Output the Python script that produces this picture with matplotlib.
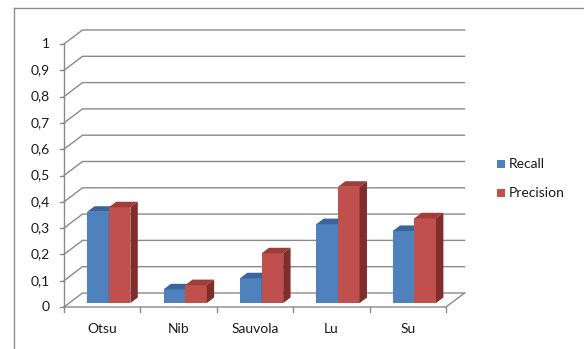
import matplotlib
matplotlib.use("Agg")
import matplotlib.pyplot as plt
from matplotlib.patches import Polygon, Rectangle
from matplotlib.lines import Line2D

categories = ["Otsu", "Nib", "Sauvola", "Lu", "Su"]
recall = [0.347, 0.052, 0.094, 0.300, 0.274]
precision = [0.364, 0.068, 0.189, 0.442, 0.322]
series_names = ["Recall", "Precision"]
y_ticks = [0, 0.1, 0.2, 0.3, 0.4, 0.5, 0.6, 0.7, 0.8, 0.9, 1.0]
y_tick_labels = ["0", "0,1", "0,2", "0,3", "0,4", "0,5", "0,6", "0,7", "0,8", "0,9", "1"]

plt.rcParams['font.family'] = ['Lato', 'DejaVu Sans']
FS = 10

W, H = 584, 349
fig = plt.figure(figsize=(W / 100, H / 100), dpi=100)
fig.patch.set_facecolor("white")

# outer chart border (top & left visible)
fig.add_artist(Line2D([14 / W, 14 / W], [0, 1 - 8 / H], color="#8c8c8c", lw=1.0, transform=fig.transFigure))
fig.add_artist(Line2D([14 / W, 1], [1 - 8 / H, 1 - 8 / H], color="#8c8c8c", lw=1.0, transform=fig.transFigure))

ax = fig.add_axes([64 / W, (H - 307) / H, (446 - 64) / W, (307 - 44) / H])
n = len(categories)
ax.set_xlim(0, n)
ax.set_ylim(0, 1)
ax.axis("off")

px_x = (446 - 64) / n  # pixels per category unit
px_y = 263.0           # pixels per value unit
DX = 18.5 / px_x
DY = 14.0 / px_y
grid_c = "#8a8a8a"
lw = 1.0

# back wall and side wall gridlines
for v in y_ticks:
    ax.plot([0, DX, n + DX], [v, v + DY, v + DY], color=grid_c, lw=lw, clip_on=False, zorder=1,
            solid_joinstyle="miter")
# floor front edge and right edge
ax.plot([0, n, n + DX], [0, 0, DY], color=grid_c, lw=lw, clip_on=False, zorder=1)
# value axis
ax.plot([0, 0], [0, 1], color=grid_c, lw=lw, clip_on=False, zorder=1)
tick_len_x = 4.5 / px_x
tick_len_y = 4.5 / px_y
for v, lab in zip(y_ticks, y_tick_labels):
    ax.plot([-tick_len_x, 0], [v, v], color=grid_c, lw=lw, clip_on=False, zorder=1)
    ax.text(-14 / px_x, v, lab, ha="right", va="center", fontsize=FS, color="#1a1a1a")
# category ticks
for i in range(n + 1):
    ax.plot([i, i], [0, -tick_len_y], color=grid_c, lw=lw, clip_on=False, zorder=1)
for i, c in enumerate(categories):
    ax.text(i + 0.5, -22 / px_y, c, ha="center", va="center", fontsize=FS, color="#1a1a1a")

# bars
f0 = 0.28     # depth position of bar front
d = 0.40      # bar depth fraction
bw = 0.283
x_start = 0.235
colors = {
    0: ("#4F81BD", "#3B659A", "#34598A"),
    1: ("#C0504D", "#9E3D3A", "#7F2E2C"),
}
for i in range(n):
    for s, vals in enumerate([recall, precision]):
        v = vals[i]
        front, top, side = colors[s]
        xl = i + x_start + s * bw + f0 * DX
        xr = xl + bw
        yb = f0 * DY
        yt = yb + v
        z = 3 + s
        ax.add_patch(Rectangle((xl, yb), bw, v, facecolor=front, edgecolor="none", zorder=z, clip_on=False))
        ax.add_patch(Polygon([(xl, yt), (xr, yt), (xr + d * DX, yt + d * DY), (xl + d * DX, yt + d * DY)],
                             closed=True, facecolor=top, edgecolor="none", zorder=z, clip_on=False))
        ax.add_patch(Polygon([(xr, yb), (xr, yt), (xr + d * DX, yt + d * DY), (xr + d * DX, yb + d * DY)],
                             closed=True, facecolor=side, edgecolor="none", zorder=z, clip_on=False))

# legend
leg_colors = ["#4F81BD", "#C0504D"]
leg_y = [164, 193]
for name, col, yy in zip(series_names, leg_colors, leg_y):
    fig.add_artist(Rectangle((497 / W, 1 - (yy + 4) / H), 8 / W, 8 / H, facecolor=col, edgecolor="none",
                             transform=fig.transFigure))
    fig.text(509 / W, 1 - yy / H, name, ha="left", va="center", fontsize=FS, color="#1a1a1a")

fig.savefig("out.png", dpi=100, facecolor="white")
